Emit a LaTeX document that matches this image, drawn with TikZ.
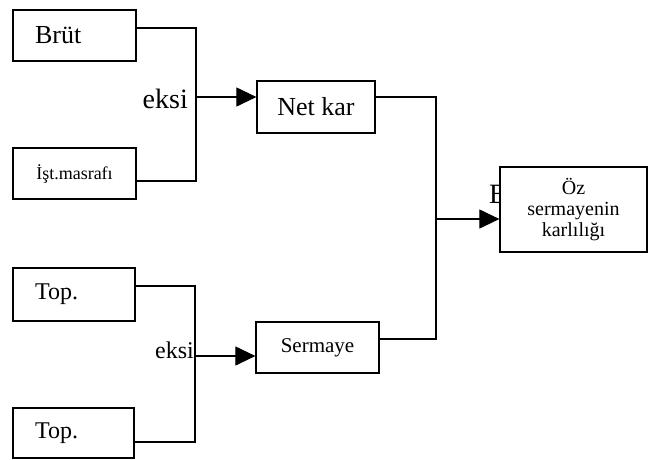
\documentclass[tikz,border=0pt]{standalone}
\usepackage{fontspec}
\setmainfont{Liberation Serif}
\usetikzlibrary{arrows.meta}

\begin{document}
\begin{tikzpicture}[x=1pt,y=-1pt,
    box/.style={draw,line width=1.2pt,inner sep=0pt,fill=white},
    small box/.style={box,minimum width=123pt,minimum height=51pt},
    link/.style={line width=1.1pt},
    arrow link/.style={link,-{Triangle[length=20pt,width=19pt]}}]

  \useasboundingbox (0,0) rectangle (662,459);

  % Define vertices
  \node[small box,text width=79pt,align=left,font=\fontsize{26}{28}\selectfont] (brut) at (74.5,35.5) {Brüt};
  \node[small box,font=\fontsize{18}{20}\selectfont] (ist) at (74.5,173.5) {İşt.masrafı};
  \node[small box,minimum width=118pt,minimum height=52pt,font=\fontsize{26}{28}\selectfont] (netkar) at (316,107) {Net kar};
  \node[small box,minimum width=122pt,minimum height=53pt,text width=78pt,align=left,font=\fontsize{24}{26}\selectfont] (top1) at (74,294.5) {Top.};
  \node[small box,minimum width=121pt,minimum height=50pt,text width=77pt,align=left,font=\fontsize{24}{26}\selectfont] (top2) at (73.5,433) {Top.};
  \node[small box,font=\fontsize{21}{23}\selectfont] (sermaye) at (317.5,347.5) {Sermaye};
  \node[anchor=west,inner sep=0pt,font=\fontsize{28}{30}\selectfont] (bolu) at (489,194) {B};
  \node[box,minimum width=147pt,minimum height=85pt,align=center,font=\fontsize{20}{21}\selectfont] (oz) at (573.5,209.5) {Öz\\sermayenin\\karlılığı};

  % Joints
  \coordinate (upper top) at (196,28);
  \coordinate (upper mid) at (196,97);
  \coordinate (upper bottom) at (196,181);
  \coordinate (lower top) at (195,286);
  \coordinate (lower mid) at (195,356);
  \coordinate (lower bottom) at (195,442);
  \coordinate (right top) at (436,97);
  \coordinate (right mid) at (436,219);
  \coordinate (right bottom) at (436,339);

  \node[anchor=east,inner sep=0pt,font=\fontsize{28}{30}\selectfont] (eksi1) at (188,99) {eksi};
  \node[anchor=east,inner sep=0pt,font=\fontsize{24}{26}\selectfont] (eksi2) at (194,350) {eksi};

  % Draw edges
  \draw[link] (brut.east |- upper top) -- (upper top) -- (upper bottom) -- (ist.east |- upper bottom);
  \draw[arrow link] (upper mid) -- (netkar.west |- upper mid);
  \draw[link] (top1.east |- lower top) -- (lower top) -- (lower bottom) -- (top2.east |- lower bottom);
  \draw[arrow link] (lower mid) -- (sermaye.west |- lower mid);
  \draw[link] (netkar.east |- right top) -- (right top) -- (right bottom) -- (sermaye.east |- right bottom);
  \draw[arrow link] (right mid) -- (oz.west |- right mid);

\end{tikzpicture}
\end{document}
